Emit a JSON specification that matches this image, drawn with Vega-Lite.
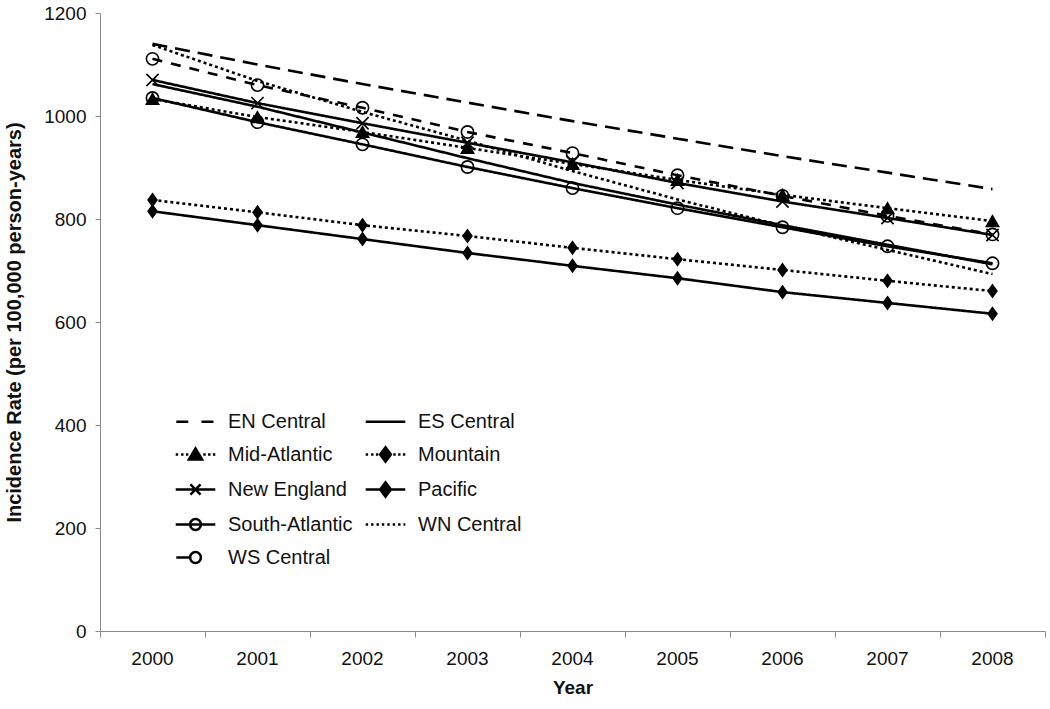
{
  "$schema": "https://vega.github.io/schema/vega-lite/v6.json",
  "width": 945,
  "height": 618,
  "autosize": "none",
  "padding": {"left": 100, "top": 13, "right": 5, "bottom": 78},
  "background": "white",
  "config": {
    "font": "Liberation Sans",
    "view": {"stroke": null},
    "axis": {"grid": false, "domainColor": "#8a8a8a", "tickColor": "#8a8a8a", "labelColor": "#111", "titleColor": "#111", "labelFont": "Liberation Sans", "titleFont": "Liberation Sans"}
  },
  "data": {
    "values": [
      {"Region": "EN Central", "Year": "2000", "Rate": 1140},
      {"Region": "EN Central", "Year": "2001", "Rate": 1100},
      {"Region": "EN Central", "Year": "2002", "Rate": 1062},
      {"Region": "EN Central", "Year": "2003", "Rate": 1026},
      {"Region": "EN Central", "Year": "2004", "Rate": 990},
      {"Region": "EN Central", "Year": "2005", "Rate": 956},
      {"Region": "EN Central", "Year": "2006", "Rate": 922},
      {"Region": "EN Central", "Year": "2007", "Rate": 890},
      {"Region": "EN Central", "Year": "2008", "Rate": 858},
      {"Region": "ES Central", "Year": "2000", "Rate": 1062},
      {"Region": "ES Central", "Year": "2001", "Rate": 1018},
      {"Region": "ES Central", "Year": "2002", "Rate": 968},
      {"Region": "ES Central", "Year": "2003", "Rate": 918},
      {"Region": "ES Central", "Year": "2004", "Rate": 870},
      {"Region": "ES Central", "Year": "2005", "Rate": 828},
      {"Region": "ES Central", "Year": "2006", "Rate": 788},
      {"Region": "ES Central", "Year": "2007", "Rate": 750},
      {"Region": "ES Central", "Year": "2008", "Rate": 712},
      {"Region": "Mid-Atlantic", "Year": "2000", "Rate": 1033},
      {"Region": "Mid-Atlantic", "Year": "2001", "Rate": 998},
      {"Region": "Mid-Atlantic", "Year": "2002", "Rate": 969},
      {"Region": "Mid-Atlantic", "Year": "2003", "Rate": 938},
      {"Region": "Mid-Atlantic", "Year": "2004", "Rate": 907},
      {"Region": "Mid-Atlantic", "Year": "2005", "Rate": 876},
      {"Region": "Mid-Atlantic", "Year": "2006", "Rate": 847},
      {"Region": "Mid-Atlantic", "Year": "2007", "Rate": 821},
      {"Region": "Mid-Atlantic", "Year": "2008", "Rate": 796},
      {"Region": "Mountain", "Year": "2000", "Rate": 837},
      {"Region": "Mountain", "Year": "2001", "Rate": 813},
      {"Region": "Mountain", "Year": "2002", "Rate": 788},
      {"Region": "Mountain", "Year": "2003", "Rate": 767},
      {"Region": "Mountain", "Year": "2004", "Rate": 744},
      {"Region": "Mountain", "Year": "2005", "Rate": 722},
      {"Region": "Mountain", "Year": "2006", "Rate": 701},
      {"Region": "Mountain", "Year": "2007", "Rate": 680},
      {"Region": "Mountain", "Year": "2008", "Rate": 660},
      {"Region": "New England", "Year": "2000", "Rate": 1070},
      {"Region": "New England", "Year": "2001", "Rate": 1025},
      {"Region": "New England", "Year": "2002", "Rate": 986},
      {"Region": "New England", "Year": "2003", "Rate": 948},
      {"Region": "New England", "Year": "2004", "Rate": 910},
      {"Region": "New England", "Year": "2005", "Rate": 870},
      {"Region": "New England", "Year": "2006", "Rate": 834},
      {"Region": "New England", "Year": "2007", "Rate": 802},
      {"Region": "New England", "Year": "2008", "Rate": 769},
      {"Region": "Pacific", "Year": "2000", "Rate": 815},
      {"Region": "Pacific", "Year": "2001", "Rate": 788},
      {"Region": "Pacific", "Year": "2002", "Rate": 761},
      {"Region": "Pacific", "Year": "2003", "Rate": 734},
      {"Region": "Pacific", "Year": "2004", "Rate": 709},
      {"Region": "Pacific", "Year": "2005", "Rate": 685},
      {"Region": "Pacific", "Year": "2006", "Rate": 658},
      {"Region": "Pacific", "Year": "2007", "Rate": 637},
      {"Region": "Pacific", "Year": "2008", "Rate": 616},
      {"Region": "South-Atlantic", "Year": "2000", "Rate": 1035},
      {"Region": "South-Atlantic", "Year": "2001", "Rate": 988},
      {"Region": "South-Atlantic", "Year": "2002", "Rate": 945},
      {"Region": "South-Atlantic", "Year": "2003", "Rate": 901},
      {"Region": "South-Atlantic", "Year": "2004", "Rate": 860},
      {"Region": "South-Atlantic", "Year": "2005", "Rate": 821},
      {"Region": "South-Atlantic", "Year": "2006", "Rate": 784},
      {"Region": "South-Atlantic", "Year": "2007", "Rate": 747},
      {"Region": "South-Atlantic", "Year": "2008", "Rate": 714},
      {"Region": "WN Central", "Year": "2000", "Rate": 1138},
      {"Region": "WN Central", "Year": "2001", "Rate": 1068},
      {"Region": "WN Central", "Year": "2002", "Rate": 1008},
      {"Region": "WN Central", "Year": "2003", "Rate": 952},
      {"Region": "WN Central", "Year": "2004", "Rate": 893},
      {"Region": "WN Central", "Year": "2005", "Rate": 838},
      {"Region": "WN Central", "Year": "2006", "Rate": 787},
      {"Region": "WN Central", "Year": "2007", "Rate": 740},
      {"Region": "WN Central", "Year": "2008", "Rate": 693},
      {"Region": "WS Central", "Year": "2000", "Rate": 1111},
      {"Region": "WS Central", "Year": "2001", "Rate": 1060},
      {"Region": "WS Central", "Year": "2002", "Rate": 1016},
      {"Region": "WS Central", "Year": "2003", "Rate": 969},
      {"Region": "WS Central", "Year": "2004", "Rate": 928},
      {"Region": "WS Central", "Year": "2005", "Rate": 885},
      {"Region": "WS Central", "Year": "2006", "Rate": 845},
      {"Region": "WS Central", "Year": "2007", "Rate": 806},
      {"Region": "WS Central", "Year": "2008", "Rate": 770}
    ]
  },
  "encoding": {
    "x": {
      "field": "Year",
      "type": "ordinal",
      "bandPosition": 0.5,
      "scale": {"type": "band", "paddingInner": 0, "paddingOuter": 0},
      "axis": {
        "title": "Year",
        "labelAngle": 0,
        "labelFontSize": 19,
        "titleFontSize": 19,
        "titleFontWeight": "bold",
        "bandPosition": 1,
        "tickExtra": true,
        "tickSize": 6,
        "labelPadding": 12,
        "titlePadding": 10
      }
    },
    "y": {
      "field": "Rate",
      "type": "quantitative",
      "scale": {"domain": [0, 1200]},
      "axis": {
        "title": "Incidence Rate (per 100,000 person-years)",
        "values": [0, 200, 400, 600, 800, 1000, 1200],
        "format": "d",
        "labelFontSize": 19,
        "titleFontSize": 20,
        "titleFontWeight": "bold",
        "tickSize": 5,
        "labelPadding": 9,
        "titlePadding": 19
      }
    }
  },
  "layer": [
    {
      "mark": {"type": "line", "color": "black", "strokeWidth": 2.6},
      "encoding": {
        "strokeDash": {
          "field": "Region",
          "type": "nominal",
          "scale": {
            "domain": ["EN Central", "ES Central", "Mid-Atlantic", "Mountain", "New England", "Pacific", "South-Atlantic", "WN Central", "WS Central"],
            "range": [[15, 8], [1, 0], [3, 3], [3, 3], [1, 0], [1, 0], [1, 0], [3, 3], [10, 9]]
          },
          "legend": null
        }
      }
    },
    {
      "transform": [{"filter": {"field": "Region", "oneOf": ["Mid-Atlantic", "Mountain", "New England", "Pacific", "South-Atlantic", "WS Central"]}}],
      "mark": {"type": "point", "color": "black", "strokeWidth": 1.6, "opacity": 1, "size": 150},
      "encoding": {
        "shape": {
          "field": "Region",
          "type": "nominal",
          "scale": {
            "domain": ["Mid-Atlantic", "Mountain", "New England", "Pacific", "South-Atlantic", "WS Central"],
            "range": ["triangle-up", "M0,-1L0.72,0L0,1L-0.72,0Z", "M-1,-1L1,1M1,-1L-1,1", "M0,-1L0.72,0L0,1L-0.72,0Z", "circle", "circle"]
          },
          "legend": null
        },
        "fill": {
          "field": "Region",
          "type": "nominal",
          "scale": {
            "domain": ["Mid-Atlantic", "Mountain", "New England", "Pacific", "South-Atlantic", "WS Central"],
            "range": ["black", "black", "transparent", "black", "transparent", "transparent"]
          },
          "legend": null
        }
      }
    },
    {
      "transform": [{"filter": "false"}],
      "mark": {"type": "point", "stroke": "black", "strokeWidth": 2.5, "opacity": 1, "size": 576},
      "encoding": {
        "shape": {
          "field": "Region",
          "type": "nominal",
          "scale": {
            "domain": ["EN Central", "ES Central", "Mid-Atlantic", "Mountain", "New England", "Pacific", "South-Atlantic", "WN Central", "WS Central"],
            "range": [
              "M-1.6,0H-0.6M0.5,0H1.5",
              "M-1.65,0H1.65",
              "M-1.65,0H-1.45M-1.2,0H-1M-0.8,0H-0.6M0,-0.5L0.55,0.42L-0.55,0.42ZM0.65,0H0.85M1.05,0H1.25M1.45,0H1.65",
              "M-1.65,0H-1.45M-1.2,0H-1M-0.8,0H-0.6M0,-0.6L0.45,0L0,0.6L-0.45,0ZM0.65,0H0.85M1.05,0H1.25M1.45,0H1.65",
              "M-1.65,0H1.65M-0.42,-0.42L0.42,0.42M0.42,-0.42L-0.42,0.42",
              "M-1.65,0H1.65M0,-0.6L0.45,0L0,0.6L-0.45,0Z",
              "M-1.65,0H1.65M0.45,0A0.45,0.45 0 1,1 -0.45,0A0.45,0.45 0 1,1 0.45,0",
              "M-1.65,0H-1.45M-1.2,0H-1M-0.75,0H-0.55M-0.3,0H-0.1M0.15,0H0.35M0.6,0H0.8M1.05,0H1.25M1.5,0H1.65",
              "M-1.6,0H-0.5M0.45,0A0.45,0.45 0 1,1 -0.45,0A0.45,0.45 0 1,1 0.45,0"
            ]
          },
          "legend": {
            "title": null,
            "orient": "none",
            "direction": "horizontal",
            "legendX": 82,
            "legendY": 395,
            "columns": 2,
            "columnPadding": 7,
            "rowPadding": 9,
            "padding": 0,
            "labelFontSize": 20,
            "labelColor": "#111",
            "labelOffset": 19,
            "symbolSize": 576,
            "symbolStrokeWidth": 2.5,
            "symbolOpacity": 1,
            "encode": {"symbols": {"stroke": {"value": "black"}, "strokeWidth": {"value": 2.5}}}
          }
        },
        "fill": {
          "field": "Region",
          "type": "nominal",
          "scale": {
            "domain": ["EN Central", "ES Central", "Mid-Atlantic", "Mountain", "New England", "Pacific", "South-Atlantic", "WN Central", "WS Central"],
            "range": ["transparent", "transparent", "black", "black", "transparent", "black", "transparent", "transparent", "transparent"]
          },
          "legend": {
            "title": null,
            "orient": "none",
            "direction": "horizontal",
            "legendX": 82,
            "legendY": 395,
            "columns": 2,
            "columnPadding": 7,
            "rowPadding": 9,
            "padding": 0,
            "labelFontSize": 20,
            "labelColor": "#111",
            "labelOffset": 19,
            "symbolSize": 576,
            "symbolStrokeWidth": 2.5,
            "symbolOpacity": 1,
            "encode": {"symbols": {"stroke": {"value": "black"}, "strokeWidth": {"value": 2.5}}}
          }
        }
      }
    }
  ],
  "resolve": {"scale": {"shape": "independent", "fill": "independent"}}
}
